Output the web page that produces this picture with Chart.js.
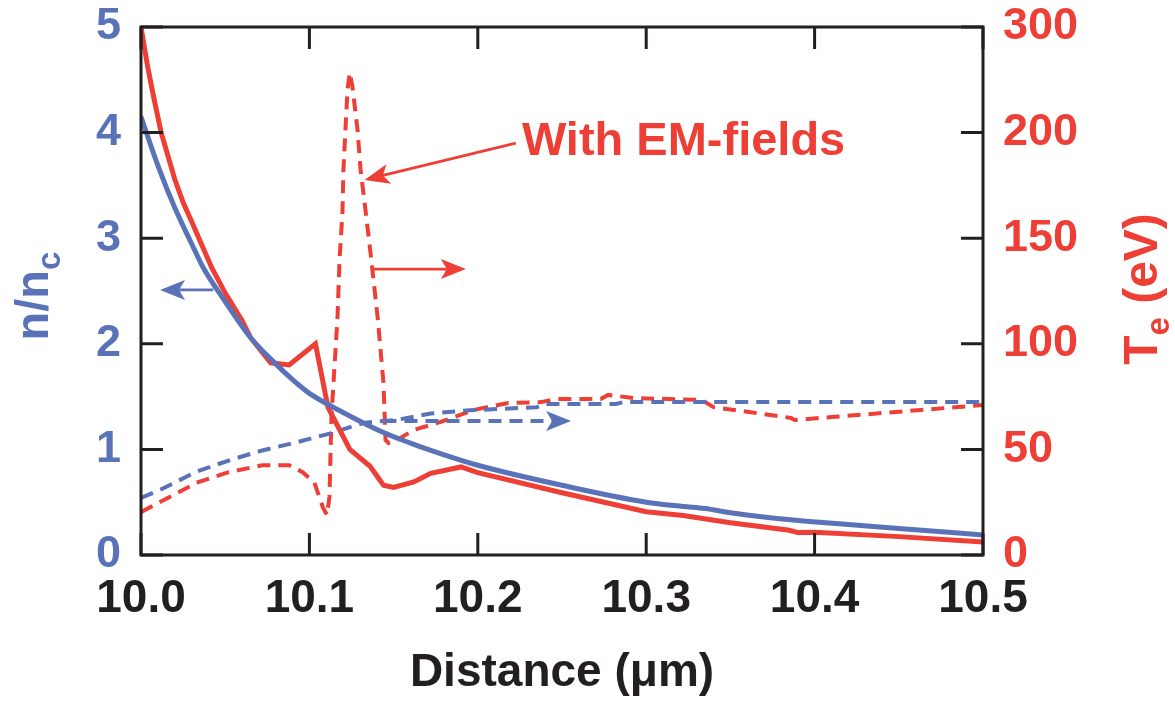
<!DOCTYPE html>
<html>
<head>
<meta charset="utf-8">
<script src="https://cdn.jsdelivr.net/npm/chart.js@4.4.1/dist/chart.umd.min.js"></script>
<style>
  html, body { margin: 0; padding: 0; background: #ffffff; }
  #chart { display: block; }
</style>
</head>
<body>
<canvas id="chart" width="1175" height="703"></canvas>
<script>
// ---- data ---------------------------------------------------------------
// density n/nc, no EM fields (solid blue, left axis)
const densityX = [10.000, 10.010, 10.020, 10.030, 10.037, 10.050, 10.065, 10.080, 10.090, 10.100,
                  10.120, 10.144, 10.160, 10.176, 10.200, 10.250, 10.300, 10.322, 10.335, 10.350,
                  10.375, 10.403, 10.450, 10.500];
const densityY = [4.15, 3.69, 3.29, 2.95, 2.72, 2.40, 2.06, 1.81, 1.66, 1.53,
                  1.35, 1.16, 1.06, 0.97, 0.85, 0.66, 0.50, 0.46, 0.44, 0.40,
                  0.35, 0.31, 0.25, 0.19];

// electron temperature Te (eV), no EM fields (solid red, right axis)
const tempX = [10.000, 10.004, 10.008, 10.012, 10.016, 10.020, 10.025, 10.030, 10.036, 10.042,
               10.050, 10.060, 10.065, 10.077, 10.088, 10.1036, 10.111, 10.124, 10.136, 10.144,
               10.150, 10.162, 10.172, 10.190, 10.200, 10.250, 10.300, 10.322, 10.350, 10.385,
               10.390, 10.400, 10.450, 10.500];
const tempY = [250, 231, 215, 200, 189, 178, 167, 158, 147, 136,
               124, 111, 103, 91, 90, 100, 70, 50, 42, 33,
               32, 34.6, 38.7, 41.7, 39, 29.5, 20.5, 18.7, 15.3, 11.7,
               10.6, 10.8, 8.7, 6.2];

// density with EM fields (dashed blue, left axis)
const densityEmX = [10.000, 10.013, 10.033, 10.053, 10.072, 10.093, 10.112, 10.132, 10.144, 10.152,
                    10.172, 10.195, 10.235, 10.240, 10.282, 10.287, 10.500];
const densityEmY = [0.54, 0.63, 0.79, 0.90, 0.99, 1.07, 1.15, 1.25, 1.27, 1.28,
                    1.34, 1.37, 1.40, 1.43, 1.43, 1.45, 1.45];

// temperature with EM fields (dashed red, right axis)
const tempEmX = [10.000, 10.013, 10.033, 10.052, 10.072, 10.088, 10.096, 10.103, 10.108, 10.1105,
                 10.1119, 10.1131, 10.1143, 10.1167, 10.1179, 10.1196, 10.1202, 10.1214, 10.1226, 10.124,
                 10.1256, 10.1286, 10.1304, 10.1333, 10.1363, 10.1405, 10.144, 10.1452, 10.147, 10.150,
                 10.162, 10.178, 10.1976, 10.218, 10.2375, 10.2476, 10.273, 10.2774, 10.293, 10.333,
                 10.340, 10.361, 10.386, 10.388, 10.410, 10.440, 10.500];
const tempEmY = [20.3, 25.8, 34.2, 39.2, 42.5, 42.5, 39.2, 34.2, 22.5, 18.9,
                 27.5, 65.3, 81.4, 112.7, 139.7, 161.9, 182.3, 201.2, 220.2, 228.4,
                 221.6, 201.2, 182.3, 163.4, 143.0, 112.7, 81.4, 54.5, 53.0, 53.5,
                 59.2, 63.0, 68.7, 72.0, 72.4, 73.9, 73.9, 75.8, 74.3, 73.4,
                 70.0, 67.7, 64.9, 63.9, 65.3, 67.2, 71.0];

// tick labels as printed on the figure
const distanceTicks = ['10.0', '10.1', '10.2', '10.3', '10.4', '10.5'];
const densityTicks = ['0', '1', '2', '3', '4', '5'];
const tempTicks = ['0', '50', '100', '150', '200', '300'];

// ---- styling --------------------------------------------------------------
const BLUE = '#5a72b8';
const RED = '#ee3f36';
const INK = '#231f20';
const FONT = "'Liberation Sans', Arial, Helvetica, sans-serif";

const zip = (xs, ys) => xs.map((x, i) => ({ x: x, y: ys[i] }));

// arrows: tail -> tip in data units, on the given y axis
const arrows = [
    { from: [10.2226, 195.0], to: [10.1327, 177.6], axis: 'y1', color: RED, dashed: false },
    { from: [10.1375, 135.4], to: [10.1929, 135.4], axis: 'y1', color: RED, dashed: false },
    { from: [10.0429, 2.51], to: [10.0113, 2.51], axis: 'y', color: BLUE, dashed: false },
    { from: [10.1440, 1.27], to: [10.2554, 1.27], axis: 'y', color: BLUE, dashed: true }
];

function drawArrow(ctx, x0, y0, x1, y1, color, dashed) {
    const ang = Math.atan2(y1 - y0, x1 - x0);
    const headLen = 25, halfW = 10, notch = 6;
    const ux = Math.cos(ang), uy = Math.sin(ang);
    const bx = x1 - ux * (headLen - notch), by = y1 - uy * (headLen - notch);

    ctx.save();
    ctx.strokeStyle = color;
    ctx.fillStyle = color;
    ctx.lineWidth = dashed ? 4 : 2.8;
    ctx.setLineDash(dashed ? [13, 8] : []);
    ctx.beginPath();
    ctx.moveTo(x0, y0);
    ctx.lineTo(bx, by);
    ctx.stroke();
    ctx.setLineDash([]);

    // filled head with a notched back
    const backX = x1 - ux * headLen, backY = y1 - uy * headLen;
    ctx.beginPath();
    ctx.moveTo(x1, y1);
    ctx.lineTo(backX - uy * halfW, backY + ux * halfW);
    ctx.lineTo(bx, by);
    ctx.lineTo(backX + uy * halfW, backY - ux * halfW);
    ctx.closePath();
    ctx.fill();
    ctx.restore();
}

// text with a subscript, rotated to read bottom-to-top
function drawRotatedTitle(ctx, cy, baseX, parts, color) {
    ctx.save();
    ctx.fillStyle = color;
    ctx.textBaseline = 'alphabetic';
    ctx.textAlign = 'left';
    let total = 0;
    parts.forEach(p => {
        ctx.font = 'bold ' + p.size + 'px ' + FONT;
        total += ctx.measureText(p.text).width;
    });
    ctx.translate(baseX, cy);
    ctx.rotate(-Math.PI / 2);
    let pos = -total / 2;
    parts.forEach(p => {
        ctx.font = 'bold ' + p.size + 'px ' + FONT;
        ctx.fillText(p.text, pos, p.shift || 0);
        pos += ctx.measureText(p.text).width;
    });
    ctx.restore();
}

const overlay = {
    id: 'overlay',
    afterDatasetsDraw(chart) {
        const { ctx, chartArea: a, scales } = chart;
        const tickLen = 22;

        ctx.save();
        // frame
        ctx.strokeStyle = INK;
        ctx.lineWidth = 3;
        ctx.strokeRect(a.left, a.top, a.right - a.left, a.bottom - a.top);

        // inward ticks on all four sides
        ctx.beginPath();
        scales.x.ticks.forEach((t, i) => {
            const px = scales.x.getPixelForTick(i);
            ctx.moveTo(px, a.bottom); ctx.lineTo(px, a.bottom - tickLen);
            ctx.moveTo(px, a.top); ctx.lineTo(px, a.top + tickLen);
        });
        scales.y.ticks.forEach((t, i) => {
            const py = scales.y.getPixelForTick(i);
            ctx.moveTo(a.left, py); ctx.lineTo(a.left + tickLen, py);
        });
        scales.y1.ticks.forEach((t, i) => {
            const py = scales.y1.getPixelForTick(i);
            ctx.moveTo(a.right, py); ctx.lineTo(a.right - tickLen, py);
        });
        ctx.stroke();
        ctx.restore();

        // annotation arrows
        arrows.forEach(ar => {
            const ys = scales[ar.axis];
            drawArrow(ctx,
                scales.x.getPixelForValue(ar.from[0]), ys.getPixelForValue(ar.from[1]),
                scales.x.getPixelForValue(ar.to[0]), ys.getPixelForValue(ar.to[1]),
                ar.color, ar.dashed);
        });

        // "With EM-fields" label
        ctx.save();
        ctx.fillStyle = RED;
        ctx.font = 'bold 47px ' + FONT;
        ctx.textAlign = 'left';
        ctx.textBaseline = 'alphabetic';
        ctx.fillText('With EM-fields', scales.x.getPixelForValue(10.2262), scales.y.getPixelForValue(3.788));
        ctx.restore();
    },
    afterDraw(chart) {
        const { ctx } = chart;
        drawRotatedTitle(ctx, 296, 48, [
            { text: 'n/n', size: 47 },
            { text: 'c', size: 33, shift: 12 }
        ], BLUE);
        drawRotatedTitle(ctx, 289, 1157, [
            { text: 'T', size: 48 },
            { text: 'e', size: 33, shift: 12 },
            { text: ' (eV)', size: 48 }
        ], RED);
    }
};

// fixed box sizes so the plot frame lands where it is in the figure
function fixVertical(width) {
    return (scale) => { scale.width = width; scale.paddingTop = 0; scale.paddingBottom = 0; };
}

const ctx = document.getElementById('chart');

const chart = new Chart(ctx, {
    type: 'line',
    data: {
        datasets: [
            {
                label: 'n/nc',
                data: zip(densityX, densityY),
                yAxisID: 'y',
                borderColor: BLUE,
                borderWidth: 5,
                cubicInterpolationMode: 'monotone',
                order: 1
            },
            {
                label: 'Te',
                data: zip(tempX, tempY),
                yAxisID: 'y1',
                borderColor: RED,
                borderWidth: 5,
                tension: 0,
                order: 2
            },
            {
                label: 'n/nc with EM-fields',
                data: zip(densityEmX, densityEmY),
                yAxisID: 'y',
                borderColor: BLUE,
                borderWidth: 4,
                borderDash: [13, 8],
                tension: 0,
                order: 3
            },
            {
                label: 'Te with EM-fields',
                data: zip(tempEmX, tempEmY),
                yAxisID: 'y1',
                borderColor: RED,
                borderWidth: 4,
                borderDash: [13, 8],
                tension: 0,
                order: 4
            }
        ]
    },
    options: {
        responsive: false,
        animation: false,
        devicePixelRatio: 1,
        elements: { point: { radius: 0 } },
        layout: { padding: { top: 27, left: 0, right: 0, bottom: 0 } },
        plugins: {
            legend: { display: false },
            tooltip: { enabled: false },
            title: { display: false }
        },
        scales: {
            x: {
                type: 'linear',
                min: 10.0,
                max: 10.5,
                grid: { display: false, drawTicks: false },
                border: { display: false },
                ticks: {
                    stepSize: 0.1,
                    padding: 17,
                    color: INK,
                    font: { family: FONT, size: 46, weight: 'bold' },
                    maxRotation: 0,
                    callback: (v, i) => distanceTicks[i]
                },
                title: {
                    display: true,
                    text: 'Distance (\u03bcm)',
                    color: INK,
                    font: { family: FONT, size: 46, weight: 'bold' },
                    padding: { top: 0, bottom: 2 }
                },
                afterFit: (scale) => { scale.height = 148; scale.paddingLeft = 0; scale.paddingRight = 0; }
            },
            y: {
                position: 'left',
                min: 0,
                max: 5,
                grid: { display: false, drawTicks: false },
                border: { display: false },
                ticks: {
                    stepSize: 1,
                    padding: 20,
                    color: BLUE,
                    font: { family: FONT, size: 45, weight: 'bold' },
                    callback: (v, i) => densityTicks[i]
                },
                afterFit: fixVertical(141)
            },
            y1: {
                position: 'right',
                min: 0,
                max: 250,
                grid: { display: false, drawTicks: false },
                border: { display: false },
                ticks: {
                    stepSize: 50,
                    padding: 20,
                    color: RED,
                    font: { family: FONT, size: 45, weight: 'bold' },
                    callback: (v, i) => tempTicks[i]
                },
                afterFit: fixVertical(192)
            }
        }
    },
    plugins: [overlay]
});
</script>
</body>
</html>
